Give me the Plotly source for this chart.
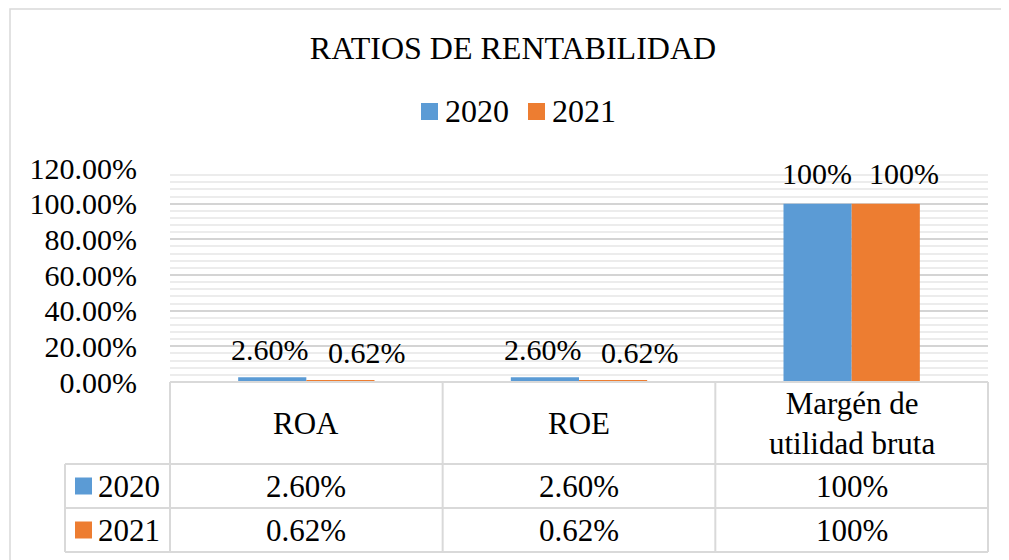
import plotly.graph_objects as go

categories = ["ROA", "ROE", "Margén de utilidad bruta"]
header_labels = ["ROA", "ROE", "Margén de<br>utilidad bruta"]
series_names = ["2020", "2021"]
values_2020 = [0.026, 0.026, 1.0]
values_2021 = [0.0062, 0.0062, 1.0]
labels_2020 = ["2.60%", "2.60%", "100%"]
labels_2021 = ["0.62%", "0.62%", "100%"]
colors = ["#5B9BD5", "#ED7D31"]
tick_vals = [0, 0.2, 0.4, 0.6, 0.8, 1.0, 1.2]
tick_text = ["0.00%", "20.00%", "40.00%", "60.00%", "80.00%", "100.00%", "120.00%"]

# label placement (pixels), as Excel nudged the 2021 labels to avoid overlap
label_dx_2020 = [-36, -36, -35]
label_dx_2021 = [61, 61, 52]
label_dy = [28, 28, 30]

OFF = 8  # page body margin
W, H = 1009 - OFF, 560 - OFF
L, R, T, B = 170 - OFF, 988 - OFF, 168 - OFF, 382 - OFF
FONT = "Liberation Serif"
GRID = "#d9d9d9"


def px(xp):
    return (xp - OFF - L) / (R - L)


def py(yp):
    return (B - (yp - OFF)) / (B - T)


fig = go.Figure()
for name, vals, col in zip(series_names, [values_2020, values_2021], colors):
    fig.add_trace(go.Bar(x=categories, y=vals, name=name, marker=dict(color=col, line=dict(width=0)),
                         showlegend=False))

shapes = []
annotations = []

for vals, labs, dxs in [(values_2020, labels_2020, label_dx_2020), (values_2021, labels_2021, label_dx_2021)]:
    for c, v, t, dx, dy in zip(categories, vals, labs, dxs, label_dy):
        annotations.append(dict(x=c, y=v, xref="x", yref="y", text=t, showarrow=False,
                                xshift=dx, yshift=dy + (3 if v < 0.01 else 0) - (3 if v < 0.01 else 0),
                                yanchor="middle",
                                font=dict(family=FONT, size=30, color="#000000")))

shapes.append(dict(type="rect", xref="paper", yref="paper", x0=px(10), x1=px(1030), y0=py(9), y1=py(600),
                   line=dict(color=GRID, width=1.5), fillcolor="rgba(0,0,0,0)", layer="below"))

row_y = [382, 464, 508, 552]
col_x = [170 + i * (988 - 170) / 3 for i in range(4)]
leg_x = 65
lc = dict(color="#d9d9d9", width=2)
shapes.append(dict(type="line", xref="paper", yref="paper", x0=px(170), x1=px(988), y0=py(382), y1=py(382), line=lc))
for yv in row_y[1:]:
    shapes.append(dict(type="line", xref="paper", yref="paper", x0=px(leg_x), x1=px(988), y0=py(yv), y1=py(yv), line=lc))
for xv in col_x:
    shapes.append(dict(type="line", xref="paper", yref="paper", x0=px(xv), x1=px(xv), y0=py(382), y1=py(552), line=lc))
shapes.append(dict(type="line", xref="paper", yref="paper", x0=px(leg_x), x1=px(leg_x), y0=py(464), y1=py(552), line=lc))

for i, h in enumerate(header_labels):
    cx = (col_x[i] + col_x[i + 1]) / 2
    annotations.append(dict(x=px(cx), y=py(423), xref="paper", yref="paper", text=h, showarrow=False,
                            xanchor="center", yanchor="middle",
                            font=dict(family=FONT, size=31, color="#000000")))

for r, (labs, name, col) in enumerate(zip([labels_2020, labels_2021], series_names, colors)):
    yc = (row_y[r + 1] + row_y[r + 2]) / 2
    for i, t in enumerate(labs):
        cx = (col_x[i] + col_x[i + 1]) / 2
        annotations.append(dict(x=px(cx), y=py(yc), xref="paper", yref="paper", text=t, showarrow=False,
                                xanchor="center", yanchor="middle",
                                font=dict(family=FONT, size=31, color="#000000")))
    shapes.append(dict(type="rect", xref="paper", yref="paper", x0=px(75), x1=px(92), y0=py(yc - 8.5), y1=py(yc + 8.5),
                       fillcolor=col, line=dict(width=0)))
    annotations.append(dict(x=px(96), y=py(yc), xref="paper", yref="paper", text=name, showarrow=False,
                            xanchor="left", yanchor="middle",
                            font=dict(family=FONT, size=31, color="#000000")))

leg_items = [(421, series_names[0], colors[0]), (528, series_names[1], colors[1])]
for x0, name, col in leg_items:
    shapes.append(dict(type="rect", xref="paper", yref="paper", x0=px(x0), x1=px(x0 + 17), y0=py(103), y1=py(120),
                       fillcolor=col, line=dict(width=0)))
    annotations.append(dict(x=px(x0 + 22), y=py(111), xref="paper", yref="paper", text=name, showarrow=False,
                            xanchor="left", yanchor="middle",
                            font=dict(family=FONT, size=32, color="#000000")))

fig.update_layout(
    width=W, height=H,
    margin=dict(l=L, r=W - R, t=T, b=H - B, pad=0),
    paper_bgcolor="white", plot_bgcolor="white",
    title=dict(text="RATIOS DE RENTABILIDAD", x=px(513), xref="paper", xanchor="center",
               y=1 - (48 - OFF) / H, yanchor="middle", font=dict(family=FONT, size=32, color="#000000")),
    barmode="group", bargap=0.5, bargroupgap=0,
    xaxis=dict(showticklabels=False, showgrid=False, zeroline=False, showline=False, ticks=""),
    yaxis=dict(range=[0, 1.2], tickvals=tick_vals, ticktext=tick_text, showgrid=True, gridcolor="#d4d4d4",
               gridwidth=1.5, zeroline=False, showline=False, ticks="", ticklabelstandoff=32,
               tickfont=dict(family=FONT, size=30, color="#000000"),
               minor=dict(dtick=0.04, tick0=0, showgrid=True, gridcolor="#ececec", gridwidth=1.5)),
    shapes=shapes, annotations=annotations,
)

fig.write_html("out.html")
